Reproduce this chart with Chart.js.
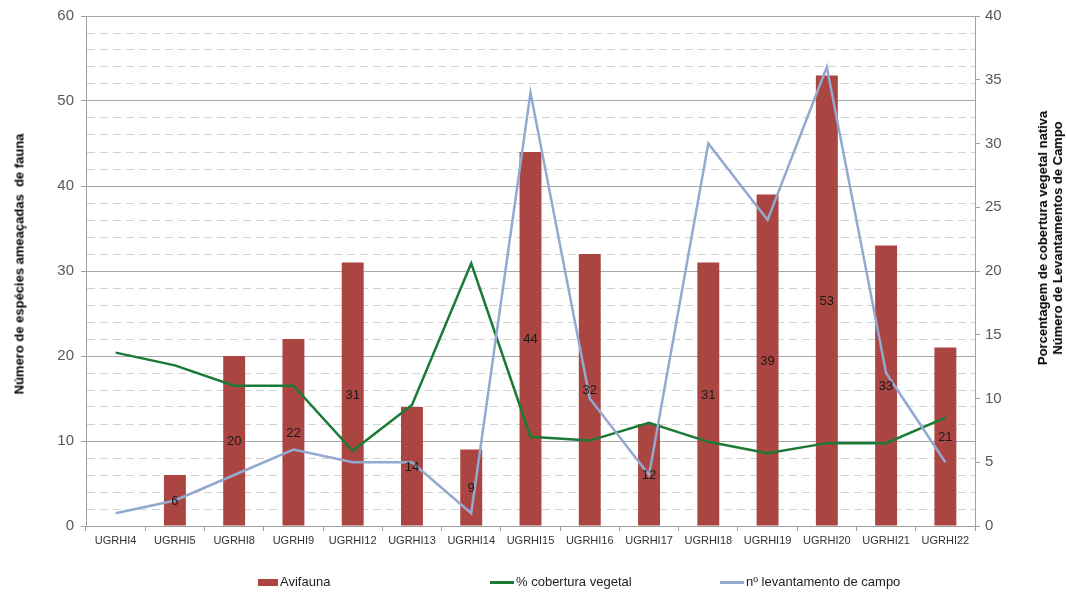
<!DOCTYPE html>
<html lang="pt">
<head>
  <meta charset="UTF-8" />
  <title>Espécies ameaçadas de fauna por UGRHI</title>
  <style>
    html, body { margin: 0; padding: 0; background: #fff; }
    #wrap { position: relative; width: 1066px; height: 592px; font-family: "Liberation Sans", Arial, sans-serif; }
    #grafico { position: absolute; left: 0; top: 0; }
    .titulo-eixo {
      position: absolute; font-weight: bold; font-size: 13px; color: #000;
      white-space: nowrap; text-align: center; line-height: 15px;
      transform: translate(-50%, -50%) rotate(-90deg);
    }
    .legenda { position: absolute; top: 574px; font-family: "Liberation Sans Narrow", "Liberation Sans", Arial, sans-serif; font-size: 13px; color: #222; white-space: nowrap; }
    .legenda span.marca { display: inline-block; vertical-align: middle; margin-right: 2px; }
  </style>
</head>
<body>
  <div id="wrap">
    <canvas id="grafico" width="1066" height="592"></canvas>
    <div class="titulo-eixo" style="left:19px; top:264px;">Número de espécies ameaçadas&nbsp; de fauna</div>
    <div class="titulo-eixo" style="left:1050px; top:238px;">Porcentagem de cobertura vegetal nativa<br>Número de Levantamentos de Campo</div>
    <div id="legendas"></div>
  </div>

  <script src="https://cdn.jsdelivr.net/npm/chart.js"></script>
  <script>
    const ugrhis = ['UGRHI4', 'UGRHI5', 'UGRHI8', 'UGRHI9', 'UGRHI12', 'UGRHI13', 'UGRHI14', 'UGRHI15',
                    'UGRHI16', 'UGRHI17', 'UGRHI18', 'UGRHI19', 'UGRHI20', 'UGRHI21', 'UGRHI22'];
    const avifauna = [null, 6, 20, 22, 31, 14, 9, 44, 32, 12, 31, 39, 53, 33, 21];
    const coberturaVegetal = [13.6, 12.6, 11.0, 11.0, 5.9, 9.5, 20.6, 7.0, 6.7, 8.1, 6.6, 5.7, 6.5, 6.5, 8.5];
    const levantamentos = [1, 2, 4, 6, 5, 5, 1, 34, 10, 4, 30, 24, 36, 12, 5];

    const corBarra = '#ab4542';
    const corVerde = '#1b7a35';
    const corAzul = '#94a9cf';
    const fonteNarrow = '"Liberation Sans Narrow", "Liberation Sans", Arial, sans-serif';
    const fonte = '"Liberation Sans", Arial, sans-serif';

    const ehPrincipal = (c) => c.tick && c.tick.value % 10 === 0;

    // rótulos de valor no meio de cada barra
    const rotulosBarras = {
      id: 'rotulosBarras',
      afterDatasetsDraw(chart) {
        const { ctx } = chart;
        const meta = chart.getDatasetMeta(0);
        ctx.save();
        ctx.font = '13px ' + fonte;
        ctx.fillStyle = '#1a1a1a';
        ctx.textAlign = 'center';
        ctx.textBaseline = 'middle';
        meta.data.forEach((barra, i) => {
          const v = avifauna[i];
          if (v === null) return;
          ctx.fillText(String(v), barra.x, (barra.y + barra.base) / 2 + 1);
        });
        ctx.restore();
      }
    };

    const grafico = new Chart(document.getElementById('grafico'), {
      data: {
        labels: ugrhis,
        datasets: [
          {
            type: 'bar', label: 'Avifauna', data: avifauna, yAxisID: 'y',
            backgroundColor: corBarra, barPercentage: 0.37, categoryPercentage: 1, order: 2
          },
          {
            type: 'line', label: '% cobertura vegetal', data: coberturaVegetal, yAxisID: 'y1',
            borderColor: corVerde, borderWidth: 2.5, pointRadius: 0, tension: 0, order: 1
          },
          {
            type: 'line', label: 'nº levantamento de campo', data: levantamentos, yAxisID: 'y1',
            borderColor: corAzul, borderWidth: 2.5, pointRadius: 0, tension: 0, order: 0
          }
        ]
      },
      options: {
        responsive: false,
        animation: false,
        layout: { padding: { top: 15, bottom: 0, left: 0, right: 0 } },
        plugins: { legend: { display: false }, tooltip: { enabled: false } },
        scales: {
          x: {
            offset: true,
            grid: { offset: true, drawOnChartArea: false, tickLength: 5, color: '#a0a0a0' },
            border: { color: '#a0a0a0' },
            ticks: { color: '#333', font: { family: fonteNarrow, size: 11 }, maxRotation: 0, autoSkip: false, padding: 3 },
            afterFit: (s) => { s.height = 66; }
          },
          y: {
            position: 'left', min: 0, max: 60,
            ticks: {
              stepSize: 2, autoSkip: false, padding: 7, color: '#595959',
              font: { family: fonteNarrow, size: 15 },
              callback: (v) => (v % 10 === 0 ? v : '')
            },
            grid: {
              color: (c) => (ehPrincipal(c) ? '#a8a8a8' : '#d2d2d2'),
              tickColor: (c) => (ehPrincipal(c) ? '#a0a0a0' : 'rgba(0,0,0,0)'),
              tickLength: 5
            },
            border: { color: '#a0a0a0', dash: (c) => (c.tick && !ehPrincipal(c) ? [8, 5] : []) },
            afterFit: (s) => { s.width = 86; }
          },
          y1: {
            position: 'right', min: 0, max: 40,
            ticks: { stepSize: 5, padding: 5, color: '#595959', font: { family: fonteNarrow, size: 15 } },
            grid: { drawOnChartArea: false, tickLength: 5, color: '#a0a0a0' },
            border: { color: '#a0a0a0' },
            afterFit: (s) => { s.width = 91; }
          }
        }
      },
      plugins: [rotulosBarras]
    });

    // legenda desenhada fora do canvas
    const itensLegenda = [
      { texto: 'Avifauna', cor: corBarra, x: 258, w: 20, h: 7 },
      { texto: '% cobertura vegetal', cor: corVerde, x: 490, w: 24, h: 3 },
      { texto: 'nº levantamento de campo', cor: corAzul, x: 720, w: 24, h: 3 }
    ];
    const caixa = document.getElementById('legendas');
    itensLegenda.forEach((it) => {
      const d = document.createElement('div');
      d.className = 'legenda';
      d.style.left = it.x + 'px';
      d.innerHTML = '<span class="marca" style="width:' + it.w + 'px;height:' + it.h + 'px;background:' + it.cor + '"></span>' + it.texto;
      caixa.appendChild(d);
    });
  </script>
</body>
</html>
